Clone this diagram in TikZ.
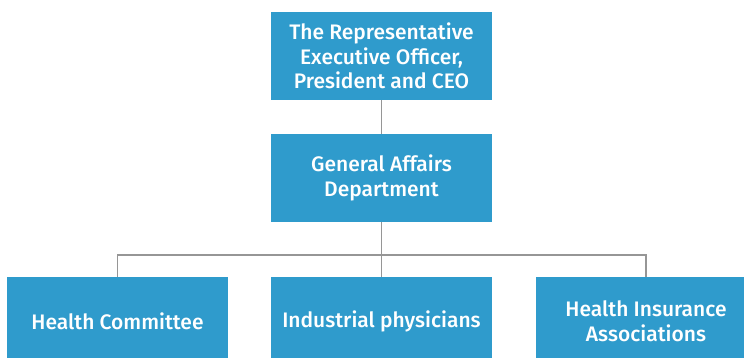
\documentclass[tikz,border=0pt]{standalone}
\usepackage{fontspec}
\setmainfont{Fira Sans}
\newfontfamily\boxfont{Fira Sans Medium}
\definecolor{boxblue}{RGB}{47,155,204}
\definecolor{linegray}{RGB}{150,150,150}
\begin{document}
\begin{tikzpicture}[x=1pt, y=-1pt,
	unit/.style={fill=boxblue, text=white, minimum width=221pt, minimum height=88pt,
		inner sep=0pt, align=center, font=\boxfont\fontsize{21}{24.5}\selectfont},
	link/.style={draw=linegray, line width=1.3pt}]
	\useasboundingbox[clip] (0, 0) rectangle (744, 358);

	% boxes
	\node[unit] (ceo) at (381.5, 56) {The Representative\\Executive Officer,\\President and CEO};
	\node[unit] (gad) at (381.5, 178) {General Affairs\\Department};
	\node[unit] (hc) at (117.5, 321) {Health Committee};
	\node[unit] (ip) at (381.5, 321) {Industrial physicians};
	\node[unit] (hia) at (646, 321) {Health Insurance\\Associations};

	% lines
	\coordinate (split) at (381.5, 255);
	\draw[link] (ceo) -- (gad);
	\draw[link] (gad) -- (split) -- (ip);
	\draw[link] (hc.north) |- (split) -| (hia.north);
\end{tikzpicture}
\end{document}
